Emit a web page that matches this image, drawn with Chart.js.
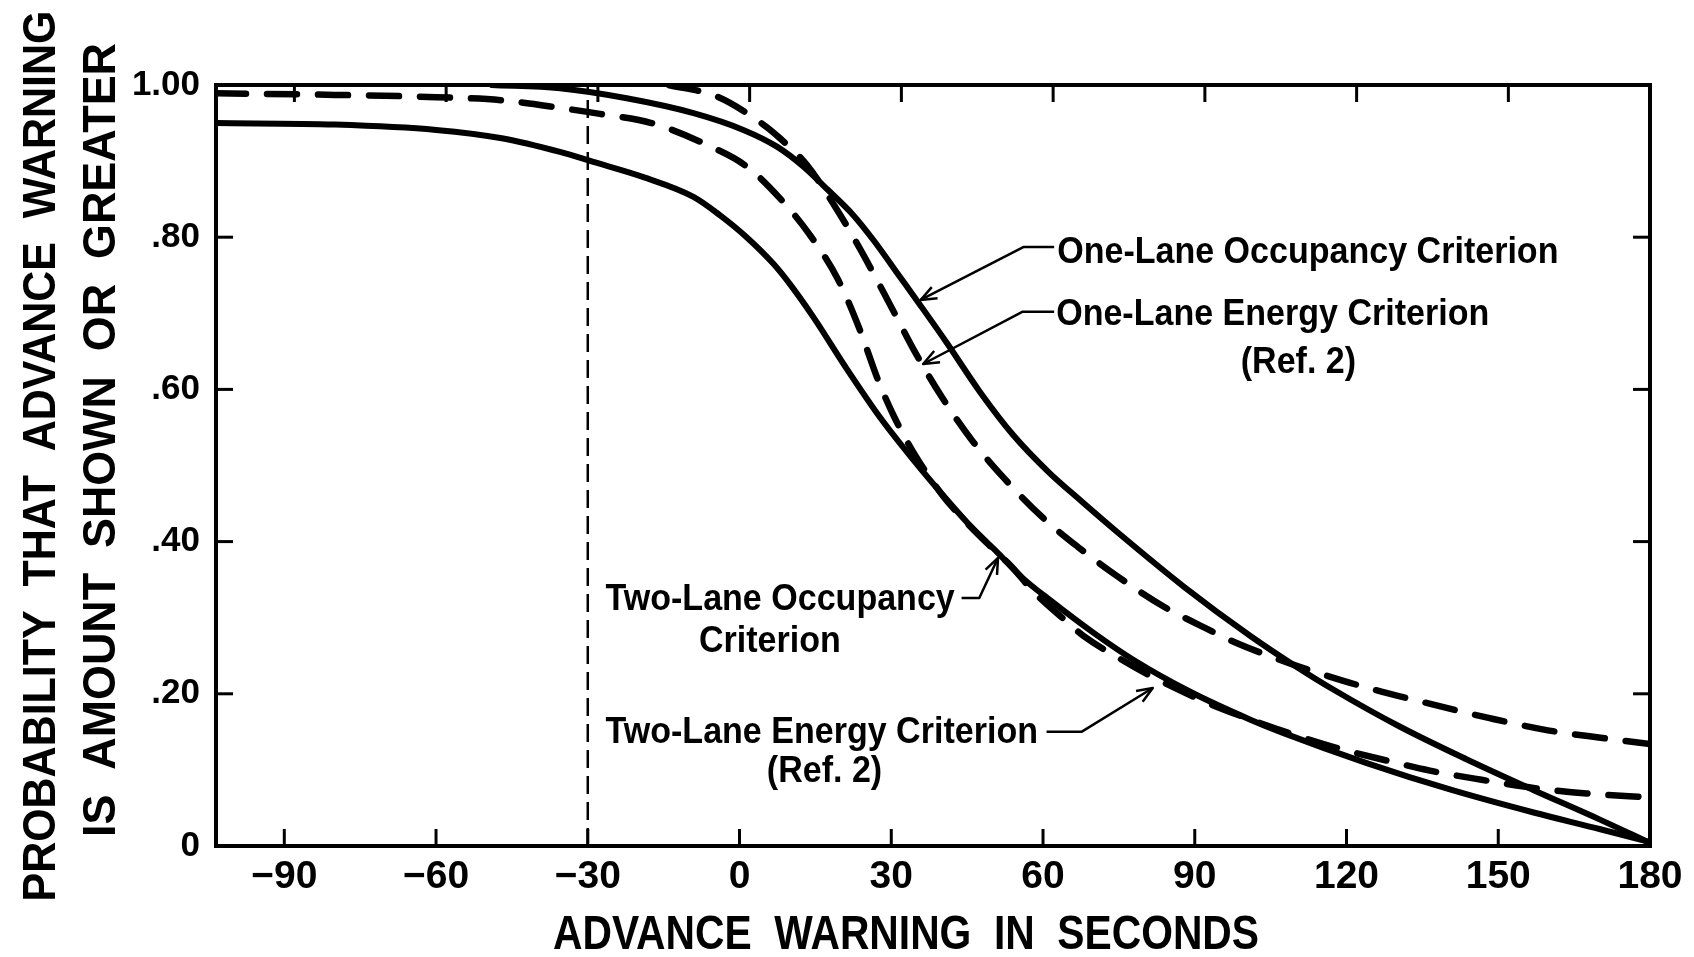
<!DOCTYPE html>
<html>
<head>
<meta charset="utf-8">
<script src="https://cdn.jsdelivr.net/npm/chart.js@4.4.1/dist/chart.umd.min.js"></script>
<style>
html,body{margin:0;padding:0;background:#fff;}
#wrap{width:1694px;height:957px;position:relative;}
</style>
</head>
<body>
<div id="wrap"><canvas id="c"></canvas></div>
<script>
// ---------- data ----------
const X_MIN = -103.5, X_MAX = 180;
const xTickValues = [-90, -60, -30, 0, 30, 60, 90, 120, 150, 180];
const xTickLabels = ['\u221290', '\u221260', '\u221230', '0', '30', '60', '90', '120', '150', '180'];
const yTickValues = [0, 0.2, 0.4, 0.6, 0.8, 1.0];
const yTickLabels = ['0', '.20', '.40', '.60', '.80', '1.00'];
const REF_LINE_X = -30;

const oneLaneOccX = [-49, -35.5, -22.3, -9.1, 0.75, 7.4, 12.6, 17.5, 22.5, 26.5, 31.7, 35.7, 41, 47.5, 54.1, 61, 67.6, 74.6, 88, 101, 110, 117.3, 130.5, 143.7, 156.8, 170, 180];
const oneLaneOccY = [1.0, 0.9957, 0.9825, 0.963, 0.941, 0.919, 0.893, 0.862, 0.829, 0.796, 0.748, 0.711, 0.661, 0.597, 0.540, 0.492, 0.453, 0.413, 0.340, 0.276, 0.236, 0.206, 0.157, 0.114, 0.074, 0.035, 0.004];

const oneLaneEnergyX = [-14, -4.5, 4.7, 8.0, 13.3, 18.9, 23.8, 30.1, 34.7, 40.0, 46.2, 52.2, 59.7, 66.9, 74.8, 84, 91, 97.8, 104.2, 110, 114.1, 124.6, 135.8, 148.3, 159.8, 170.6, 180];
const oneLaneEnergyY = [1.0, 0.985, 0.948, 0.930, 0.895, 0.840, 0.785, 0.707, 0.649, 0.590, 0.531, 0.484, 0.433, 0.393, 0.354, 0.314, 0.290, 0.268, 0.251, 0.237, 0.228, 0.207, 0.188, 0.168, 0.152, 0.142, 0.134];

const twoLaneOccX = [-103.5, -80, -60, -47, -35.5, -28.9, -19, -9.1, -3.9, 1.4, 6.7, 10, 14.6, 21.2, 27.8, 34.4, 41, 46, 51.1, 56, 61.6, 70, 78, 89, 101, 107.7, 124, 140.6, 157, 170.2, 180];
const twoLaneOccY = [0.950, 0.948, 0.941, 0.930, 0.912, 0.899, 0.879, 0.853, 0.829, 0.800, 0.765, 0.738, 0.695, 0.627, 0.563, 0.507, 0.455, 0.418, 0.385, 0.352, 0.322, 0.280, 0.244, 0.203, 0.166, 0.148, 0.109, 0.074, 0.044, 0.022, 0.005];

const twoLaneEnergyX = [-103.5, -80, -60, -47, -34.5, -27.6, -17.4, -6, 1.4, 8.0, 13.9, 19.5, 23.8, 27.4, 30.5, 34.5, 40, 45, 50, 53.8, 58, 64.3, 68.2, 75.5, 79.7, 87.9, 93.2, 101.1, 108.4, 118, 128.1, 136.5, 146.7, 157.3, 167.5, 180];
const twoLaneEnergyY = [0.989, 0.987, 0.984, 0.980, 0.969, 0.962, 0.950, 0.920, 0.893, 0.851, 0.803, 0.744, 0.678, 0.612, 0.565, 0.516, 0.462, 0.424, 0.391, 0.367, 0.335, 0.297, 0.275, 0.245, 0.229, 0.202, 0.186, 0.166, 0.149, 0.129, 0.112, 0.099, 0.087, 0.076, 0.069, 0.064];

// ---------- labels / layout ----------
const Y_TITLE = ['PROBABILITY  THAT  ADVANCE  WARNING', 'IS  AMOUNT  SHOWN  OR  GREATER'];
const X_TITLE = 'ADVANCE  WARNING  IN  SECONDS';

// annotations in data coordinates
const annotations = [
  {lines: [{t: 'One-Lane Occupancy Criterion', x: 62.8, y: 0.766, align: 'left'}],
   leader: [[62.2, 0.787], [56.1, 0.787], [35.8, 0.7175]]},
  {lines: [{t: 'One-Lane Energy Criterion', x: 62.6, y: 0.685, align: 'left'},
           {t: '(Ref. 2)', x: 110.5, y: 0.6215, align: 'center'}],
   leader: [[62.2, 0.702], [55.9, 0.702], [36.3, 0.6334]]},
  {lines: [{t: 'Two-Lane Occupancy', x: -26.5, y: 0.310, align: 'left'},
           {t: 'Criterion', x: 6.0, y: 0.255, align: 'center'}],
   leader: [[43.9, 0.326], [47.4, 0.326], [51.1, 0.3785]]},
  {lines: [{t: 'Two-Lane Energy Criterion', x: -26.5, y: 0.135, align: 'left'},
           {t: '(Ref. 2)', x: 16.8, y: 0.084, align: 'center'}],
   leader: [[60.7, 0.150], [67.6, 0.150], [81.7, 0.2076]]}
];

const FONT = '"Liberation Sans", Arial, "DejaVu Sans", sans-serif';
const TICK_LEN = 17;
const TOP_TICK_SHIFT = 2;

function pts(xs, ys) { return xs.map((x, i) => ({x: x, y: ys[i]})); }

function drawText(ctx, text, x, y, font, opts) {
  opts = opts || {};
  ctx.save();
  ctx.font = font;
  ctx.translate(x, y);
  if (opts.rot) ctx.rotate(opts.rot);
  const w = ctx.measureText(text).width;
  const sx = opts.width ? opts.width / w : (opts.sx || 1);
  ctx.scale(sx, 1);
  ctx.textAlign = opts.align || 'left';
  ctx.textBaseline = 'alphabetic';
  ctx.fillStyle = '#000';
  ctx.fillText(text, 0, 0);
  ctx.restore();
}

function seg(ctx, x1, y1, x2, y2) {
  ctx.beginPath(); ctx.moveTo(x1, y1); ctx.lineTo(x2, y2); ctx.stroke();
}

const framePlugin = {
  id: 'frame',
  afterDatasetsDraw(chart) {
    const ctx = chart.ctx, a = chart.chartArea, xs = chart.scales.x, ys = chart.scales.y;
    ctx.save();
    ctx.strokeStyle = '#000';
    ctx.lineCap = 'butt';
    ctx.setLineDash([]);
    ctx.lineWidth = 4;
    ctx.strokeRect(a.left, a.top, a.right - a.left, a.bottom - a.top);
    ctx.lineWidth = 3;
    xTickValues.forEach(v => {
      if (v > X_MIN && v < X_MAX) {
        const px = xs.getPixelForValue(v);
        seg(ctx, px, a.bottom, px, a.bottom - TICK_LEN);
      }
      const vt = v + TOP_TICK_SHIFT;
      if (vt > X_MIN && vt < X_MAX) {
        const pt = xs.getPixelForValue(vt);
        seg(ctx, pt, a.top, pt, a.top + TICK_LEN);
      }
    });
    yTickValues.forEach(v => {
      if (v > 0 && v < 1) {
        const py = ys.getPixelForValue(v);
        seg(ctx, a.left, py, a.left + TICK_LEN, py);
        seg(ctx, a.right, py, a.right - TICK_LEN, py);
      }
    });

    // annotations
    ctx.lineWidth = 2.5;
    ctx.lineJoin = 'round';
    annotations.forEach(an => {
      an.lines.forEach(l => {
        drawText(ctx, l.t, xs.getPixelForValue(l.x), ys.getPixelForValue(l.y),
          'bold 37px ' + FONT, {sx: 0.92, align: l.align});
      });
      const p = an.leader.map(q => [xs.getPixelForValue(q[0]), ys.getPixelForValue(q[1])]);
      ctx.beginPath();
      ctx.moveTo(p[0][0], p[0][1]);
      for (let i = 1; i < p.length; i++) ctx.lineTo(p[i][0], p[i][1]);
      ctx.stroke();
      const tip = p[p.length - 1], from = p[p.length - 2];
      const ang = Math.atan2(tip[1] - from[1], tip[0] - from[0]);
      const L = 17, spread = 0.38;
      ctx.beginPath();
      ctx.moveTo(tip[0] - L * Math.cos(ang - spread), tip[1] - L * Math.sin(ang - spread));
      ctx.lineTo(tip[0], tip[1]);
      ctx.lineTo(tip[0] - L * Math.cos(ang + spread), tip[1] - L * Math.sin(ang + spread));
      ctx.stroke();
    });

    // axis titles
    const capH = 34;
    drawText(ctx, Y_TITLE[0], 38 + capH / 2, 456, 'bold 47px ' + FONT, {rot: -Math.PI / 2, align: 'center', width: 891});
    drawText(ctx, Y_TITLE[1], 98 + capH / 2, 440, 'bold 47px ' + FONT, {rot: -Math.PI / 2, align: 'center', width: 794});
    drawText(ctx, X_TITLE, 906, 949, 'bold 48px ' + FONT, {align: 'center', width: 706});
    ctx.restore();
  }
};

const solid = {borderColor: '#000', borderWidth: 6, fill: false, pointRadius: 0,
  cubicInterpolationMode: 'monotone', borderCapStyle: 'round', borderJoinStyle: 'round'};
const dashed = Object.assign({}, solid, {borderWidth: 6.5, borderDash: [30, 21]});

new Chart(document.getElementById('c'), {
  type: 'line',
  data: {
    datasets: [
      Object.assign({label: 'One-Lane Occupancy Criterion', data: pts(oneLaneOccX, oneLaneOccY)}, solid),
      Object.assign({label: 'One-Lane Energy Criterion (Ref. 2)', data: pts(oneLaneEnergyX, oneLaneEnergyY)}, dashed),
      Object.assign({label: 'Two-Lane Occupancy Criterion', data: pts(twoLaneOccX, twoLaneOccY)}, solid),
      Object.assign({label: 'Two-Lane Energy Criterion (Ref. 2)', data: pts(twoLaneEnergyX, twoLaneEnergyY)}, dashed),
      {label: 'ref', data: [{x: REF_LINE_X, y: 0}, {x: REF_LINE_X, y: 1}], borderColor: '#000',
       borderWidth: 2.5, borderDash: [18, 8], pointRadius: 0, fill: false}
    ]
  },
  options: {
    responsive: true,
    maintainAspectRatio: false,
    animation: false,
    layout: {padding: {top: 85, right: 44, left: 0, bottom: 0}},
    plugins: {legend: {display: false}, tooltip: {enabled: false}},
    scales: {
      x: {
        type: 'linear', min: X_MIN, max: X_MAX,
        afterFit(s) { s.height = 111; },
        afterBuildTicks(s) { s.ticks = xTickValues.map(v => ({value: v})); },
        ticks: {autoSkip: false, maxRotation: 0, padding: 8, color: '#000',
          font: {family: FONT, size: 39, weight: 'bold'},
          callback: (v) => { const i = xTickValues.indexOf(v); return i >= 0 ? xTickLabels[i] : ''; }},
        grid: {display: false, drawTicks: false},
        border: {display: false}
      },
      y: {
        type: 'linear', min: 0, max: 1,
        afterFit(s) { s.width = 216; },
        afterBuildTicks(s) { s.ticks = yTickValues.map(v => ({value: v})); },
        ticks: {autoSkip: false, padding: 16, color: '#000',
          font: {family: FONT, size: 35, weight: 'bold'},
          callback: (v) => { const i = yTickValues.findIndex(t => Math.abs(t - v) < 1e-9); return i >= 0 ? yTickLabels[i] : ''; }},
        grid: {display: false, drawTicks: false},
        border: {display: false}
      }
    }
  },
  plugins: [framePlugin]
});
</script>
</body>
</html>
